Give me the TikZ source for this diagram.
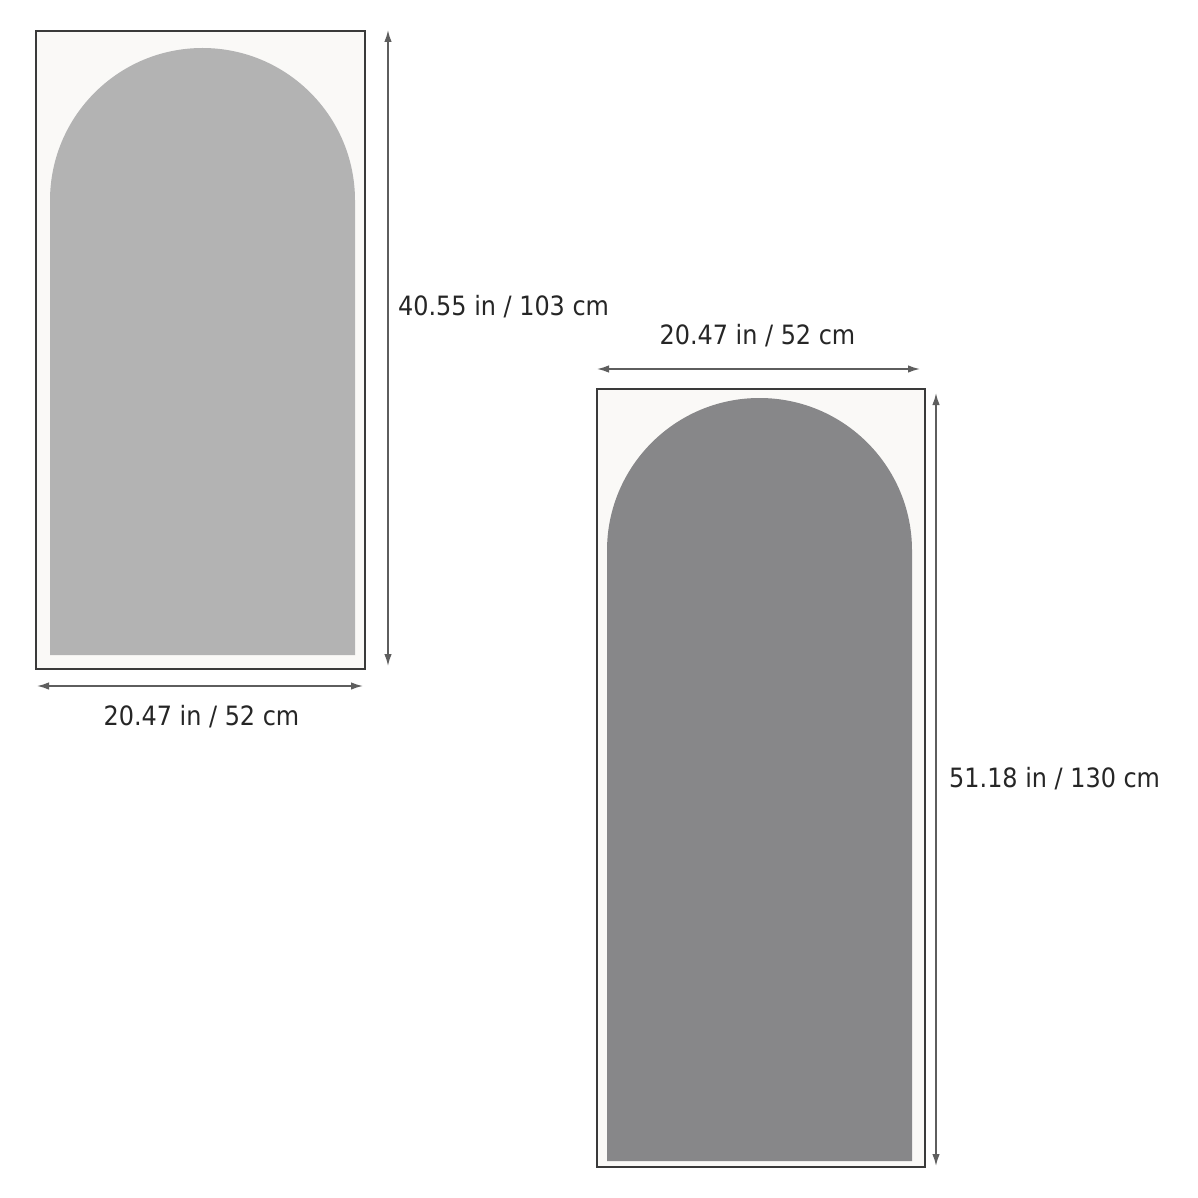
\documentclass[tikz,border=0pt]{standalone}
\usepackage{fontspec}
\setmainfont{DejaVu Sans Condensed}
\usetikzlibrary{arrows.meta}
\definecolor{paper}{HTML}{FAF9F7}
\definecolor{frameline}{HTML}{3A3A3A}
\definecolor{dimline}{HTML}{5E5E5E}
\definecolor{lightarch}{HTML}{B3B3B3}
\definecolor{darkarch}{HTML}{878789}
\tikzset{
  panel/.style={draw=frameline, line width=1.6pt, fill=paper},
  dimarrow/.style={draw=dimline, line width=1.6pt, {Latex[length=12pt,width=7.5pt]}-{Latex[length=12pt,width=7.5pt]}},
  dimlabel/.style={inner sep=0pt, font=\fontsize{26.6}{30}\selectfont, text=black!85}
}
\begin{document}
\begin{tikzpicture}[x=1pt,y=-1pt]
\useasboundingbox[fill=white] (0,0) rectangle (1198,1198);
% left panel
\draw[panel] (36,31) rectangle (365,669);
\fill[lightarch] (50,655) -- (50,200.5) arc[start angle=180, end angle=360, radius=152.5] -- (355,655) -- cycle;
\coordinate (lvt) at (388,30);
\coordinate (lvb) at (388,666);
\draw[dimarrow] (lvt) -- (lvb);
\node[dimlabel, anchor=base west] (lvlab) at (398,315) {40.55 in / 103 cm};
\coordinate (lhl) at (37,686);
\coordinate (lhr) at (363,686);
\draw[dimarrow] (lhl) -- (lhr);
\node[dimlabel, anchor=base] (lhlab) at (201.5,725) {20.47 in / 52 cm};
% right panel
\draw[panel] (597,389) rectangle (925,1167);
\fill[darkarch] (607,1161) -- (607,550.5) arc[start angle=180, end angle=360, radius=152.5] -- (912,1161) -- cycle;
\coordinate (rhl) at (597,369);
\coordinate (rhr) at (920,369);
\draw[dimarrow] (rhl) -- (rhr);
\node[dimlabel, anchor=base] (rhlab) at (757.5,344) {20.47 in / 52 cm};
\coordinate (rvt) at (936,393);
\coordinate (rvb) at (936,1166);
\draw[dimarrow] (rvt) -- (rvb);
\node[dimlabel, anchor=base west] (rvlab) at (949,787) {51.18 in / 130 cm};
\end{tikzpicture}
\end{document}
